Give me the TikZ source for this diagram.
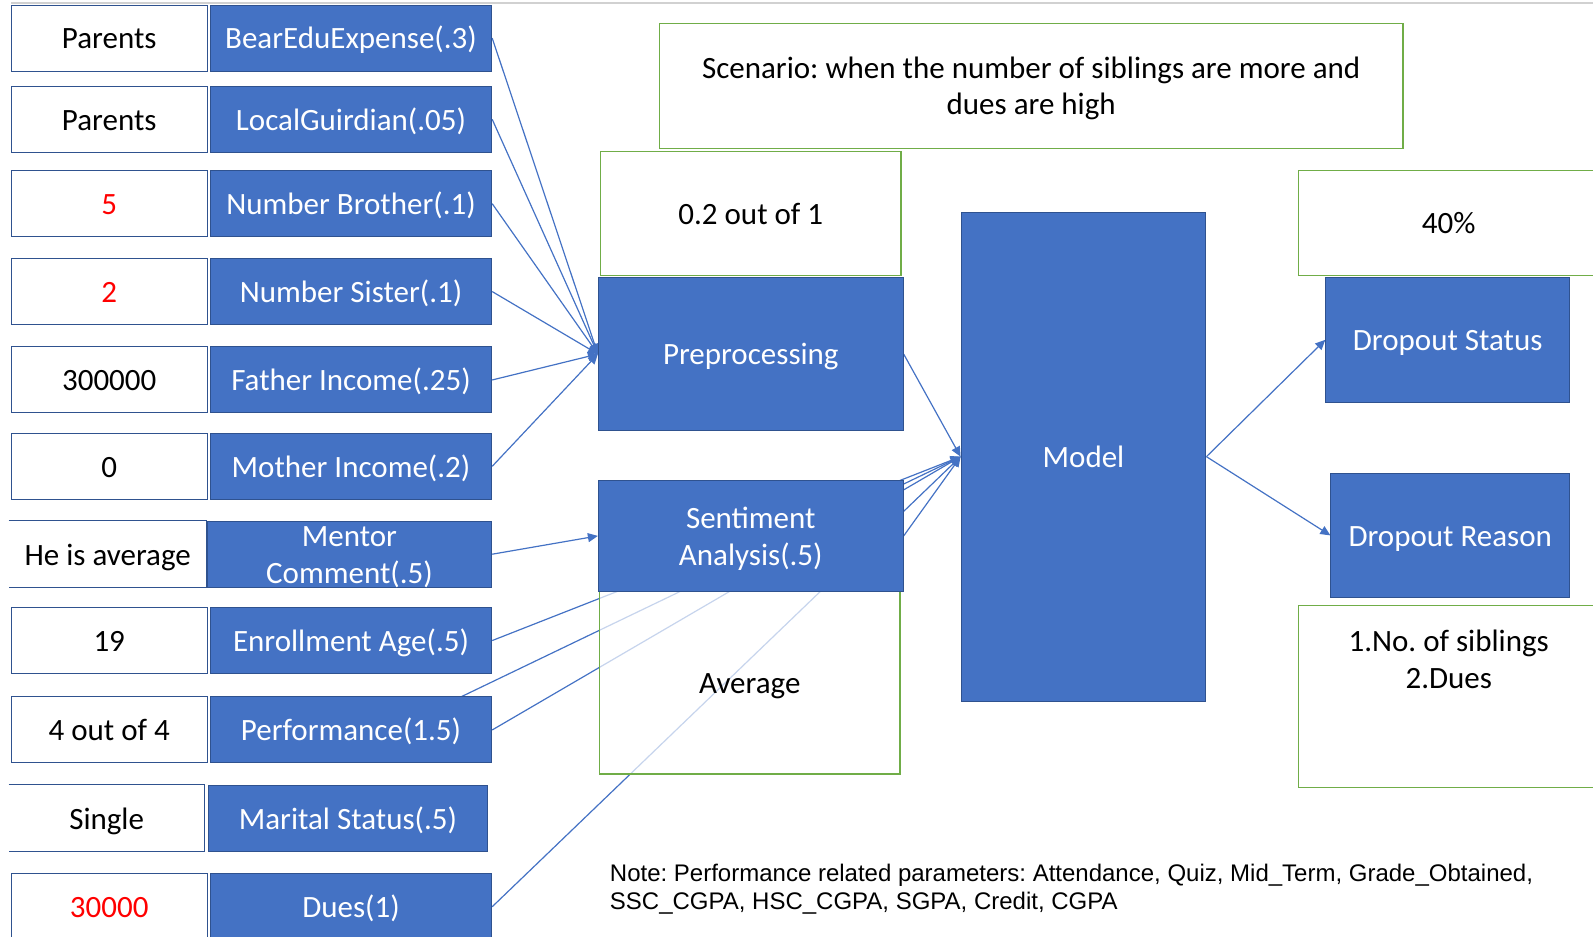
\documentclass[tikz,border=0pt]{standalone}
\usepackage{fontspec}
\setmainfont{Carlito}
\newfontfamily\notefont{Liberation Sans}
\usetikzlibrary{arrows.meta,backgrounds,positioning}
\definecolor{boxblue}{HTML}{4472C4}
\definecolor{edgeblue}{HTML}{2F528F}
\definecolor{leaf}{HTML}{70AD47}
\newdimen\pxu \pxu=0.508pt
\newcommand\linestrut{\rule[-0.2em]{0pt}{1.1em}}
\frenchspacing

\tikzset{
  every node/.append style={execute at begin node=\linestrut, execute at end node=\linestrut},
  valbox/.style={draw=edgeblue, line width=0.5pt, fill=white, minimum width=193\pxu, minimum height=65\pxu, inner sep=0pt},
  featbox/.style={draw=edgeblue, line width=0.5pt, fill=boxblue, text=white, minimum width=277\pxu, minimum height=65\pxu, inner sep=0pt, align=center},
  stagebox/.style={draw=edgeblue, line width=0.5pt, fill=boxblue, text=white, inner sep=0pt, align=center},
  greenbox/.style={draw=leaf, line width=0.7pt, fill=white, inner sep=0pt, align=center},
  link/.style={draw=boxblue, line width=0.6pt, -{Triangle[length=5pt,width=4.5pt]}}
}

\begin{document}
\begin{tikzpicture}[x=0.508pt, y=-0.508pt, font=\fontsize{15.5}{18.3}\selectfont]
  \useasboundingbox (0,0) rectangle (1568,922);
  \draw[black!18, line width=0.8pt] (11,3) -- (1568,3); %Top rule

  \node[valbox] (v1) at (107.5,37.5) {Parents};
  \node[featbox, right=2\pxu of v1] (bear) {BearEduExpense(.3)};
  \node[valbox] (v2) at (107.5,117.5) {Parents};
  \node[featbox, right=2\pxu of v2] (guard) {LocalGuirdian(.05)};
  \node[valbox, text=red] (v3) at (107.5,200.5) {5};
  \node[featbox, right=2\pxu of v3] (brother) {Number Brother(.1)};
  \node[valbox, text=red] (v4) at (107.5,287) {2};
  \node[featbox, right=2\pxu of v4] (sister) {Number Sister(.1)};
  \node[valbox] (v5) at (107.5,374) {300000};
  \node[featbox, right=2\pxu of v5] (father) {Father Income(.25)};
  \node[valbox] (v6) at (107.5,459) {0};
  \node[featbox, right=2\pxu of v6] (mother) {Mother Income(.2)};
  \node[valbox, draw=none, minimum width=194\pxu] (v7) at (106,545.5) {He is average};
  \draw[edgeblue, line width=0.5pt] (v7.north west) -- (v7.north east) -- (v7.south east) -- (v7.south west); %Open box
  \node[featbox, minimum width=280\pxu, right=0pt of v7] (mentor) {};
  \node[text=white, align=center, inner sep=0pt] (mentortxt) at (mentor.center) {\linestrut Mentor\\Comment(.5)\linestrut}; %Text spills over the box
  \node[valbox] (v8) at (107.5,630.5) {19};
  \node[featbox, right=2\pxu of v8] (enroll) {Enrollment Age(.5)};
  \node[valbox] (v9) at (107.5,718.5) {4 out of 4};
  \node[featbox, right=2\pxu of v9] (perf) {Performance(1.5)};
  \node[valbox, draw=none, minimum width=192\pxu] (v10) at (105,805.5) {Single};
  \draw[edgeblue, line width=0.5pt] (v10.north west) -- (v10.north east) -- (v10.south east) -- (v10.south west); %Open box
  \node[featbox, minimum width=275\pxu, right=3\pxu of v10] (marital) {Marital Status(.5)};
  \node[valbox, text=red] (v11) at (107.5,892.5) {30000};
  \node[featbox, right=2\pxu of v11] (dues) {Dues(1)};

  \node[greenbox, minimum width=732\pxu, minimum height=123\pxu] (scen) at (1015,84.5) {\linestrut Scenario: when the number of siblings are more and\\dues are high\linestrut};
  \node[greenbox, minimum width=296\pxu, minimum height=122\pxu] (score) at (739,210) {0.2 out of 1};
  \node[stagebox, minimum width=300\pxu, minimum height=151\pxu] (prep) at (739,348.5) {Preprocessing};
  \node[greenbox, fill opacity=0.7, text opacity=1, minimum width=296\pxu, minimum height=180\pxu] (avg) at (738,672) {Average};
  \node[stagebox, minimum width=300\pxu, minimum height=109\pxu] (senti) at (739,527.5) {\linestrut Sentiment\\Analysis(.5)\linestrut};
  \node[stagebox, minimum width=241\pxu, minimum height=481\pxu] (model) at (1066.5,449.5) {Model};

  \node[greenbox, minimum width=296\pxu, minimum height=103\pxu] (pct) at (1426,219.5) {40\%};
  \node[stagebox, minimum width=240\pxu, minimum height=123\pxu] (dstat) at (1425,334.5) {Dropout Status};
  \node[stagebox, minimum width=235\pxu, minimum height=122\pxu] (dreas) at (1427.5,527) {Dropout Reason};
  \node[greenbox, minimum width=296\pxu, minimum height=179\pxu] (why) at (1426,685.5) {};
  \node[align=center, inner sep=0pt] (whytxt) at (1426,649) {\linestrut 1.No. of siblings\\2.Dues\linestrut};

  \node[anchor=west, align=left, inner sep=0pt, font=\notefont\fontsize{12}{14.2}\selectfont] (note) at (600,875)
    {Note: Performance related parameters: Attendance, Quiz, Mid\_Term, Grade\_Obtained,\\SSC\_CGPA, HSC\_CGPA, SGPA, Credit, CGPA};

  \coordinate (perfsrc) at (387,718); %Hidden start inside Performance

  \begin{scope}[on background layer]
    \draw[link] (bear.east) -- (prep.west);
    \draw[link] (guard.east) -- (prep.west);
    \draw[link] (brother.east) -- (prep.west);
    \draw[link] (sister.east) -- (prep.west);
    \draw[link] (father.east) -- (prep.west);
    \draw[link] (mother.east) -- (prep.west);
    \draw[link] (mentor.east) -- (senti.west);
    \draw[link] (enroll.east) -- (model.west);
    \draw[link] (perfsrc) -- (model.west);
    \draw[link] (perf.east) -- (model.west);
    \draw[link] (dues.east) -- (model.west);
    \draw[link] (senti.east) -- (model.west);
    \draw[link] (prep.east) -- (model.west);
    \draw[link] (model.east) -- (dstat.west);
    \draw[link] (model.east) -- (dreas.west);
  \end{scope}
\end{tikzpicture}
\end{document}
